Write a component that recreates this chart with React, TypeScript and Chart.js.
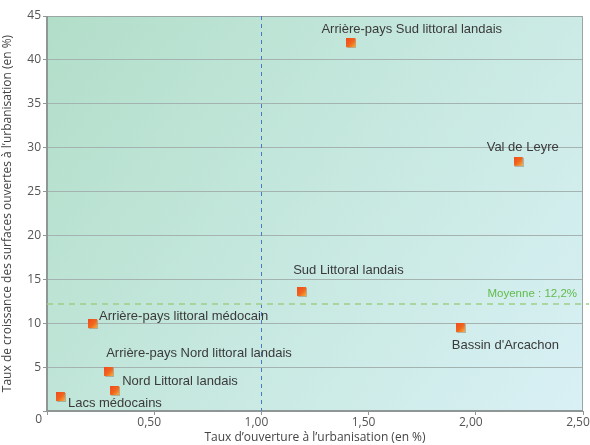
import React, { useEffect, useRef } from "react";
import { Chart, registerables } from "chart.js";

Chart.register(...registerables);

const territoryNames = [
  "Arrière-pays Sud littoral landais",
  "Val de Leyre",
  "Sud Littoral landais",
  "Bassin d'Arcachon",
  "Arrière-pays littoral médocain",
  "Arrière-pays Nord littoral landais",
  "Nord Littoral landais",
  "Lacs médocains",
];
const openingRates = [1.42, 2.2, 1.19, 1.93, 0.215, 0.29, 0.318, 0.065];
const growthRates = [41.9, 28.4, 13.55, 9.45, 9.9, 4.45, 2.28, 1.6];
const meanGrowth = 12.2;
const meanLabel = "Moyenne : 12,2%";
const referenceOpening = 1.0;
const xTicks = [0, 0.5, 1, 1.5, 2, 2.5];
const yTicks = [0, 5, 10, 15, 20, 25, 30, 35, 40, 45];
const xTitle = "Taux d’ouverture à l’urbanisation (en %)";
const yTitle = "Taux de croissance des surfaces ouvertes à l’urbanisation (en %)";
// label placement relative to marker (left edge of text, vertical centre), px
const labelOffsets = [
  [-30, -14],
  [-32, -14],
  [-9, -22],
  [-9, 17],
  [6, -8],
  [-3, -19],
  [7, -10],
  [7, 6],
];

function makeMarker(): HTMLCanvasElement {
  const c = document.createElement("canvas");
  c.width = 10;
  c.height = 10;
  const g = c.getContext("2d")!;
  g.fillStyle = "rgba(120,80,60,0.35)";
  g.fillRect(1, 1, 9, 9);
  const grad = g.createLinearGradient(0, 0, 9, 9);
  grad.addColorStop(0, "#f04a1c");
  grad.addColorStop(0.55, "#f0671f");
  grad.addColorStop(1, "#f7b23a");
  g.fillStyle = grad;
  g.fillRect(0, 0, 9, 9);
  return c;
}

export default function App() {
  const ref = useRef<HTMLCanvasElement | null>(null);

  useEffect(() => {
    if (!ref.current) return;
    const marker = makeMarker();
    const font = "'Liberation Sans', Arial, sans-serif";
    const tickFont = "'Open Sans', 'Noto Sans', sans-serif";

    const decor = {
      id: "decor",
      beforeDraw(chart: any) {
        const { ctx, chartArea: a } = chart;
        ctx.save();
        const grad = ctx.createLinearGradient(a.left, a.top, a.right, a.bottom);
        grad.addColorStop(0, "#b2dec9");
        grad.addColorStop(0.5, "#c6e8df");
        grad.addColorStop(1, "#d9f0f5");
        ctx.fillStyle = grad;
        ctx.fillRect(a.left, a.top, a.right - a.left, a.bottom - a.top);
        ctx.restore();
      },
      beforeDatasetsDraw(chart: any) {
        const { ctx, chartArea: a, scales } = chart;
        ctx.save();
        // frame
        ctx.strokeStyle = "#9aa6a4";
        ctx.lineWidth = 1;
        ctx.beginPath();
        ctx.moveTo(a.left, a.top + 0.5);
        ctx.lineTo(a.right - 0.5, a.top + 0.5);
        ctx.lineTo(a.right - 0.5, a.bottom);
        ctx.stroke();
        ctx.strokeStyle = "#8e9795";
        ctx.lineWidth = 2;
        ctx.beginPath();
        ctx.moveTo(a.left, a.top);
        ctx.lineTo(a.left, a.bottom);
        ctx.lineTo(a.right, a.bottom);
        ctx.stroke();
        // vertical dashed line
        const vx = scales.x.getPixelForValue(referenceOpening);
        ctx.strokeStyle = "#4a78c8";
        ctx.lineWidth = 1;
        ctx.setLineDash([4, 4]);
        ctx.beginPath();
        ctx.moveTo(Math.round(vx) + 0.5, a.top);
        ctx.lineTo(Math.round(vx) + 0.5, a.bottom);
        ctx.stroke();
        // mean line
        const my = scales.y.getPixelForValue(meanGrowth);
        ctx.strokeStyle = "#9dce86";
        ctx.lineWidth = 1.5;
        ctx.setLineDash([6, 5]);
        ctx.beginPath();
        ctx.moveTo(a.left, my);
        ctx.lineTo(a.right + 6, my);
        ctx.stroke();
        ctx.setLineDash([]);
        ctx.fillStyle = "#62bb4c";
        ctx.font = "11.5px " + font;
        ctx.textAlign = "right";
        ctx.textBaseline = "middle";
        ctx.fillText(meanLabel, a.right - 6, my - 10);
        // zero label
        ctx.fillStyle = "#555";
        ctx.font = "12px " + tickFont;
        ctx.textAlign = "right";
        ctx.fillText("0", a.left - 5, scales.y.getPixelForValue(0) + 9);
        ctx.restore();
      },
      afterDraw(chart: any) {
        const { ctx } = chart;
        const meta = chart.getDatasetMeta(0);
        ctx.save();
        ctx.fillStyle = "#3a3a3a";
        ctx.font = "13px " + font;
        ctx.textAlign = "left";
        ctx.textBaseline = "middle";
        meta.data.forEach((pt: any, i: number) => {
          const [dx, dy] = labelOffsets[i];
          ctx.fillText(territoryNames[i], pt.x + dx, pt.y + dy);
        });
        ctx.restore();
      },
    };

    const chart = new Chart(ref.current, {
      type: "scatter",
      data: {
        datasets: [
          {
            data: openingRates.map((x, i) => ({ x, y: growthRates[i] })),
            pointStyle: marker as any,
            pointRadius: 5,
            backgroundColor: "#f05a1e",
          },
        ],
      },
      options: {
        animation: false,
        responsive: false,
        layout: { padding: { left: 0, right: 7, top: 16, bottom: 0 } },
        plugins: { legend: { display: false }, tooltip: { enabled: false } },
        scales: {
          x: {
            type: "linear",
            min: 0,
            max: 2.5,
            afterBuildTicks: (s: any) => {
              s.ticks = xTicks.map((v) => ({ value: v }));
            },
            afterFit: (s: any) => {
              s.height = 34;
              s.paddingLeft = 0;
              s.paddingRight = 0;
            },
            grid: {
              display: true,
              drawOnChartArea: false,
              drawTicks: true,
              tickLength: 4,
              tickColor: "#8e9795",
            },
            border: { display: false },
            ticks: {
              color: "#555",
              font: { family: tickFont, size: 12 },
              padding: 0,
              labelOffset: -5,
              callback: (v: any) => (v === 0 ? "" : Number(v).toFixed(2).replace(".", ",")),
            },
            title: {
              display: true,
              text: xTitle,
              color: "#444",
              font: { family: tickFont, size: 12 },
              padding: { top: 0, bottom: 0 },
            },
          },
          y: {
            type: "linear",
            min: 0,
            max: 45,
            afterBuildTicks: (s: any) => {
              s.ticks = yTicks.map((v) => ({ value: v }));
            },
            afterFit: (s: any) => {
              s.width = 47;
              s.paddingTop = 0;
              s.paddingBottom = 0;
            },
            grid: {
              color: "#a4b3af",
              lineWidth: 1,
              tickLength: 4,
              tickColor: "#8e9795",
            },
            border: { display: false },
            ticks: {
              color: "#555",
              font: { family: tickFont, size: 12 },
              padding: 2,
              callback: (v: any) => (v === 0 ? "" : String(v)),
            },
            title: {
              display: true,
              text: yTitle,
              color: "#444",
              font: { family: tickFont, size: 12 },
              padding: { top: 0, bottom: 2 },
            },
          },
        },
      },
      plugins: [decor],
    });
    return () => chart.destroy();
  }, []);

  return (
    <div style={{ position: "fixed", left: 0, top: 0, width: 590, height: 445, background: "#fff" }}>
      <canvas ref={ref} width={590} height={445} />
    </div>
  );
}
